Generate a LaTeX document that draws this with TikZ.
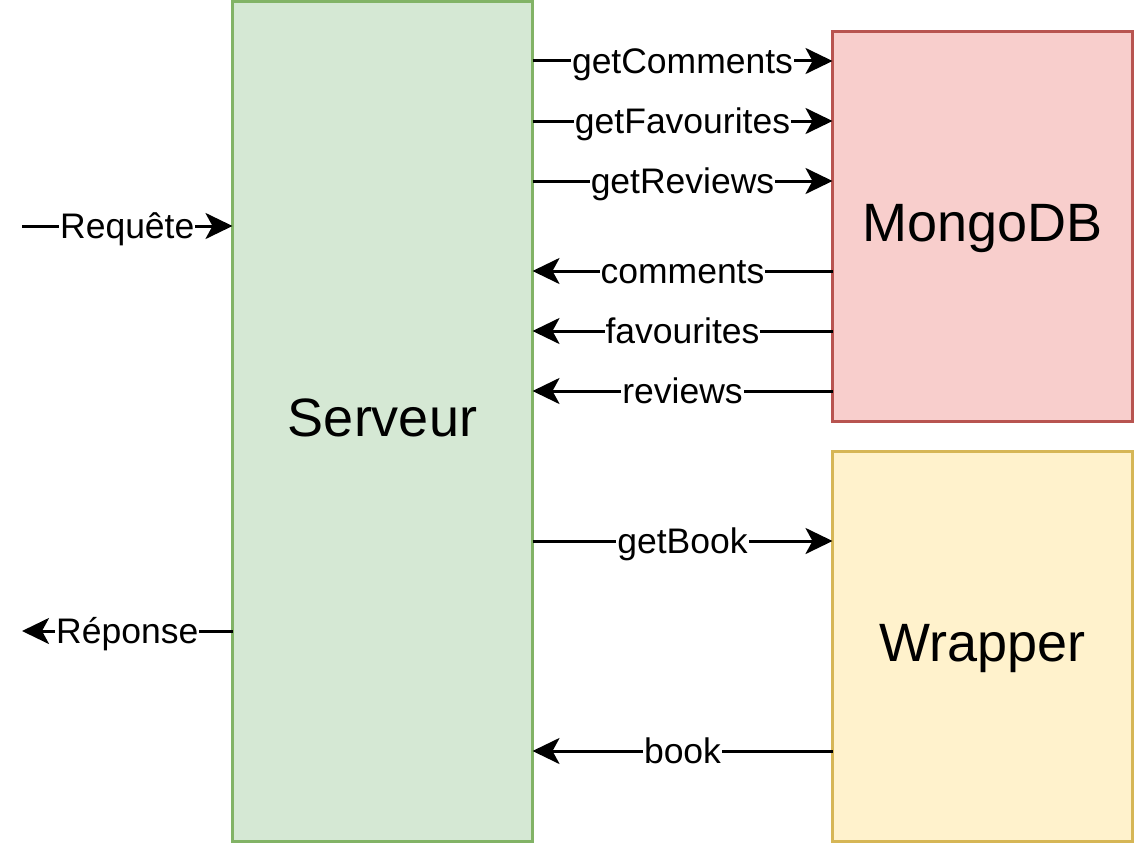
\documentclass[tikz,border=0pt]{standalone}
\usepackage{fontspec}
\setmainfont{Liberation Sans}
\usetikzlibrary{arrows.meta}
\definecolor{servfill}{HTML}{D5E8D4}
\definecolor{servline}{HTML}{82B366}
\definecolor{mongofill}{HTML}{F8CECC}
\definecolor{mongoline}{HTML}{B85450}
\definecolor{wrapfill}{HTML}{FFF2CC}
\definecolor{wrapline}{HTML}{D6B656}

\begin{document}
\begin{tikzpicture}[x=1pt,y=-1pt,
  box/.style={draw, line width=3pt, anchor=north west, inner sep=0pt, outer sep=0pt,
    minimum width=300pt, text height=38pt, text depth=8pt,
    font=\fontsize{54}{60}\selectfont},
  flow/.style={line width=3pt, -{Stealth[length=27pt,width=26pt,inset=7pt]}},
  lbl/.style={fill=white, inner xsep=1pt, inner ysep=0pt,
    text height=25pt, text depth=0pt, font=\fontsize{35.5}{40}\selectfont}]
\useasboundingbox (0,0) rectangle (1134,843);

% boxes
\node[box, fill=servfill, draw=servline, minimum height=840pt] (serveur) at (232.5,1.5) {Serveur};
\node[box, fill=mongofill, draw=mongoline, minimum height=390pt] (mongo) at (832.5,31.5) {MongoDB};
\node[box, fill=wrapfill, draw=wrapline, minimum height=390pt] (wrapper) at (832.5,451.5) {Wrapper};

% requests to the database
\foreach \y/\txt in {61/getComments, 121/getFavourites, 181/getReviews}
  \draw[flow] (serveur.east |- 0,\y) -- node[lbl]{\txt} (mongo.west |- 0,\y);
% answers from the database
\foreach \y/\txt in {271/comments, 331/favourites, 391/reviews}
  \draw[flow] (mongo.west |- 0,\y) -- node[lbl]{\txt} (serveur.east |- 0,\y);

% wrapper
\draw[flow] (serveur.east |- 0,541) -- node[lbl]{getBook} (wrapper.west |- 0,541);
\draw[flow] (wrapper.west |- 0,751) -- node[lbl]{book} (serveur.east |- 0,751);

% client side
\coordinate (client in) at (22,226);
\coordinate (client out) at (22,631);
\draw[flow] (client in) -- node[lbl]{Requête} (serveur.west |- client in);
\draw[flow] (serveur.west |- client out) -- node[lbl]{Réponse} (client out);
\end{tikzpicture}
\end{document}
